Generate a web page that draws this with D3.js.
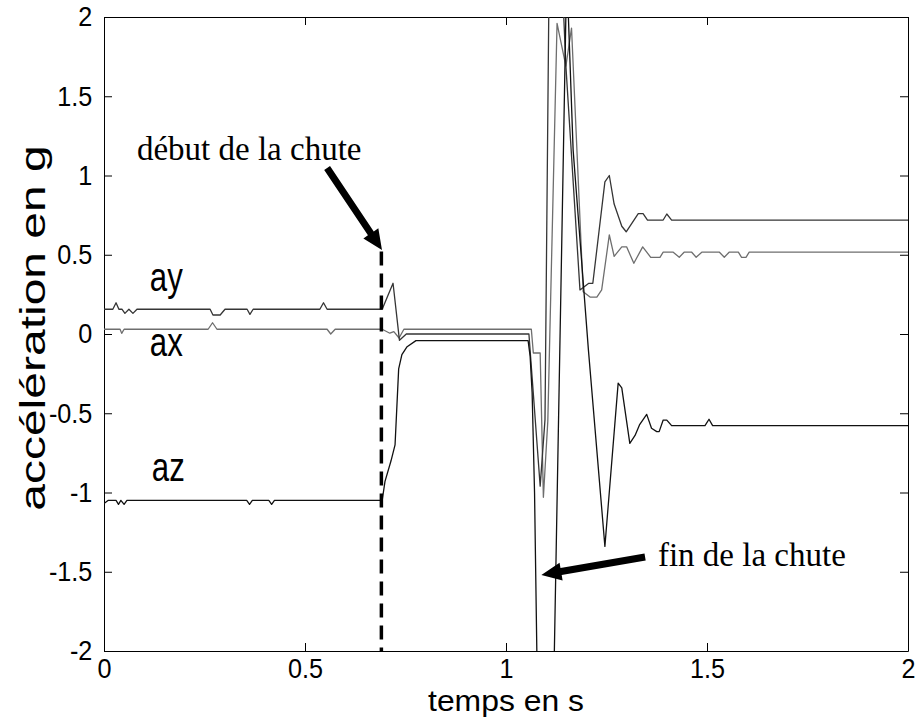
<!DOCTYPE html>
<html>
<head>
<meta charset="utf-8">
<script src="https://cdn.jsdelivr.net/npm/d3@7"></script>
<style>
  body { margin: 0; background: #fff; }
  svg { display: block; }
</style>
</head>
<body>
<div class="chart"></div>
<script>
// tick values
const tTicks = [0, 0.5, 1, 1.5, 2];
const vTicks = [-2, -1.5, -1, -0.5, 0, 0.5, 1, 1.5, 2];

// [time (s), acceleration (g)]
const ay = [[0,0.156],[0.022,0.156],[0.030,0.197],[0.037,0.156],[0.045,0.156],[0.052,0.13],[0.062,0.156],
  [0.072,0.13],[0.082,0.156],[0.264,0.156],[0.271,0.12],[0.289,0.12],[0.301,0.156],[0.356,0.156],[0.363,0.124],
  [0.371,0.156],[0.537,0.156],[0.546,0.197],[0.555,0.156],[0.692,0.156],[0.719,0.32],[0.735,-0.04],[0.752,0.0],
  [1.057,0.0],[1.085,-0.96],[1.097,-0.54],[1.107,2.2],[1.124,3.2],[1.142,2.1],[1.149,1.69],[1.184,0.278],
  [1.206,0.32],[1.216,0.32],[1.246,0.96],[1.257,1.0],[1.269,0.82],[1.288,0.68],[1.299,0.645],[1.329,0.76],
  [1.341,0.76],[1.352,0.719],[1.391,0.719],[1.400,0.757],[1.412,0.719],[2,0.719]];

const ax = [[0,0.030],[0.040,0.030],[0.044,0.004],[0.050,0.030],[0.259,0.030],[0.270,0.071],[0.281,0.030],
  [0.555,0.030],[0.564,0.0],[0.575,0.030],[0.692,0.030],[0.711,0.005],[0.721,0.015],[0.734,-0.025],[0.746,0.030],
  [1.063,0.030],[1.068,-0.12],[1.085,-0.12],[1.093,-1.03],[1.104,-0.55],[1.127,1.96],[1.149,1.69],[1.163,1.93],
  [1.192,0.267],[1.209,0.233],[1.226,0.233],[1.238,0.278],[1.257,0.625],[1.269,0.49],[1.288,0.55],[1.300,0.55],
  [1.318,0.446],[1.340,0.55],[1.360,0.484],[1.383,0.484],[1.391,0.516],[1.416,0.516],[1.431,0.484],[1.443,0.516],
  [1.462,0.516],[1.473,0.484],[1.487,0.516],[1.531,0.516],[1.543,0.484],[1.555,0.516],[1.578,0.516],[1.586,0.484],
  [1.597,0.484],[1.605,0.516],[2,0.516]];

const az = [[0,-1.07],[0.010,-1.05],[0.030,-1.05],[0.036,-1.075],[0.042,-1.05],[0.050,-1.075],[0.057,-1.05],
  [0.355,-1.05],[0.362,-1.075],[0.369,-1.05],[0.410,-1.05],[0.417,-1.075],[0.424,-1.05],[0.692,-1.05],
  [0.699,-0.93],[0.714,-0.80],[0.724,-0.70],[0.733,-0.22],[0.741,-0.13],[0.754,-0.08],[0.776,-0.042],
  [1.055,-0.042],[1.060,-0.14],[1.065,-0.37],[1.071,-1.0],[1.077,-2.05],[1.097,-4.5],[1.112,-3.16],[1.151,2.3],
  [1.167,1.16],[1.205,-0.1],[1.246,-1.34],[1.279,-0.31],[1.288,-0.34],[1.308,-0.69],[1.321,-0.64],[1.332,-0.574],
  [1.350,-0.507],[1.362,-0.595],[1.375,-0.616],[1.381,-0.616],[1.391,-0.543],[1.400,-0.543],[1.412,-0.578],
  [1.495,-0.578],[1.505,-0.538],[1.514,-0.578],[2,-0.578]];

const fallStart = 0.69;

const margin = { top: 17, right: 9, bottom: 66, left: 104 };
const W = 917, H = 717;
const width = W - margin.left - margin.right;
const height = H - margin.top - margin.bottom;

const svg = d3.select('.chart').append('svg')
  .attr('width', W).attr('height', H);

const x = d3.scaleLinear().domain([0, 2]).range([margin.left, margin.left + width]);
const y = d3.scaleLinear().domain([-2, 2]).range([margin.top + height, margin.top]);

svg.append('clipPath').attr('id', 'plot')
  .append('rect')
  .attr('x', x(0)).attr('y', y(2))
  .attr('width', x(2) - x(0)).attr('height', y(-2) - y(2));

const sansFont = '"Liberation Sans", Arial, Helvetica, sans-serif';
const serifFont = '"Liberation Serif", "Times New Roman", serif';
const squeeze = 0.78; // the original figure is squashed horizontally

// axes, ticks pointing inward
const fmt = d => String(d);
const bottom = svg.append('g').attr('transform', `translate(0,${y(-2)})`)
  .call(d3.axisBottom(x).tickValues(tTicks).tickSizeInner(-8).tickSizeOuter(0).tickPadding(7).tickFormat(fmt));
const left = svg.append('g').attr('transform', `translate(${x(0)},0)`)
  .call(d3.axisLeft(y).tickValues(vTicks).tickSizeInner(-8).tickSizeOuter(0).tickPadding(13).tickFormat(fmt));
svg.append('g').attr('transform', `translate(0,${y(2)})`)
  .call(d3.axisTop(x).tickValues(tTicks).tickSizeInner(-8).tickSizeOuter(0).tickFormat(''));
svg.append('g').attr('transform', `translate(${x(2)},0)`)
  .call(d3.axisRight(y).tickValues(vTicks).tickSizeInner(-8).tickSizeOuter(0).tickFormat(''));

[bottom, left].forEach(g => {
  g.attr('font-size', 28).attr('font-family', sansFont);
  g.selectAll('text').attr('fill', '#000').attr('transform', 'scale(0.9,1)');
});
svg.selectAll('.domain, .tick line').attr('stroke', '#000').attr('stroke-width', 1);

// series
const line = d3.line().x(d => x(d[0])).y(d => y(d[1]));
const plot = svg.append('g').attr('clip-path', 'url(#plot)');
const series = [
  { data: ax, color: '#6e6e6e' },
  { data: ay, color: '#353535' },
  { data: az, color: '#111' }
];
plot.selectAll('path.series')
  .data(series)
  .join('path')
  .attr('class', 'series')
  .attr('d', d => line(d.data))
  .attr('fill', 'none')
  .attr('stroke', d => d.color)
  .attr('stroke-width', 1.3)
  .attr('stroke-linejoin', 'round');

// dashed marker at the start of the fall
svg.append('line')
  .attr('x1', x(fallStart)).attr('x2', x(fallStart))
  .attr('y1', y(0.52)).attr('y2', y(-2))
  .attr('stroke', '#000').attr('stroke-width', 3.5)
  .attr('stroke-dasharray', '14,8');

// series labels
const labels = [
  { text: 'ay', t: 0.114, v: 0.271 },
  { text: 'ax', t: 0.114, v: -0.139 },
  { text: 'az', t: 0.119, v: -0.927 }
];
svg.selectAll('text.lab')
  .data(labels)
  .join('text')
  .attr('class', 'lab')
  .attr('transform', d => `translate(${x(d.t)},${y(d.v)}) scale(${squeeze},1)`)
  .attr('font-family', sansFont)
  .attr('font-size', 40)
  .text(d => d.text);

// annotations
function arrow(t0, v0, t1, v1) {
  const x0 = x(t0), y0 = y(v0), x1 = x(t1), y1 = y(v1);
  const len = Math.hypot(x1 - x0, y1 - y0);
  const ux = (x1 - x0) / len, uy = (y1 - y0) / len;
  const nx = -uy, ny = ux;
  const head = 20, hw = 9, sw = 3.5;
  const bx = x1 - ux * head, by = y1 - uy * head;
  const pts = [
    [x0 + nx * sw, y0 + ny * sw], [bx + nx * sw, by + ny * sw], [bx + nx * hw, by + ny * hw],
    [x1, y1],
    [bx - nx * hw, by - ny * hw], [bx - nx * sw, by - ny * sw], [x0 - nx * sw, y0 - ny * sw]
  ];
  svg.append('path').attr('d', 'M' + pts.join('L') + 'Z').attr('fill', '#000');
}
arrow(0.555, 1.047, 0.6915, 0.53);
arrow(1.346, -1.407, 1.088, -1.52);

svg.append('text')
  .attr('x', x(0.082)).attr('y', y(1.098))
  .attr('font-family', serifFont).attr('font-size', 33)
  .text('début de la chute');
svg.append('text')
  .attr('x', x(1.378)).attr('y', y(-1.465))
  .attr('font-family', serifFont).attr('font-size', 33)
  .text('fin de la chute');

// axis titles
svg.append('text')
  .attr('transform', `translate(${(x(0) + x(2)) / 2},711) scale(1.1,1)`)
  .attr('text-anchor', 'middle')
  .attr('font-family', sansFont).attr('font-size', 29)
  .text('temps en s');
svg.append('text')
  .attr('transform', `translate(45,${y(0) - 6}) rotate(-90) scale(1,0.74)`)
  .attr('text-anchor', 'middle')
  .attr('font-family', sansFont).attr('font-size', 48)
  .text('accélération en g');
</script>
</body>
</html>
